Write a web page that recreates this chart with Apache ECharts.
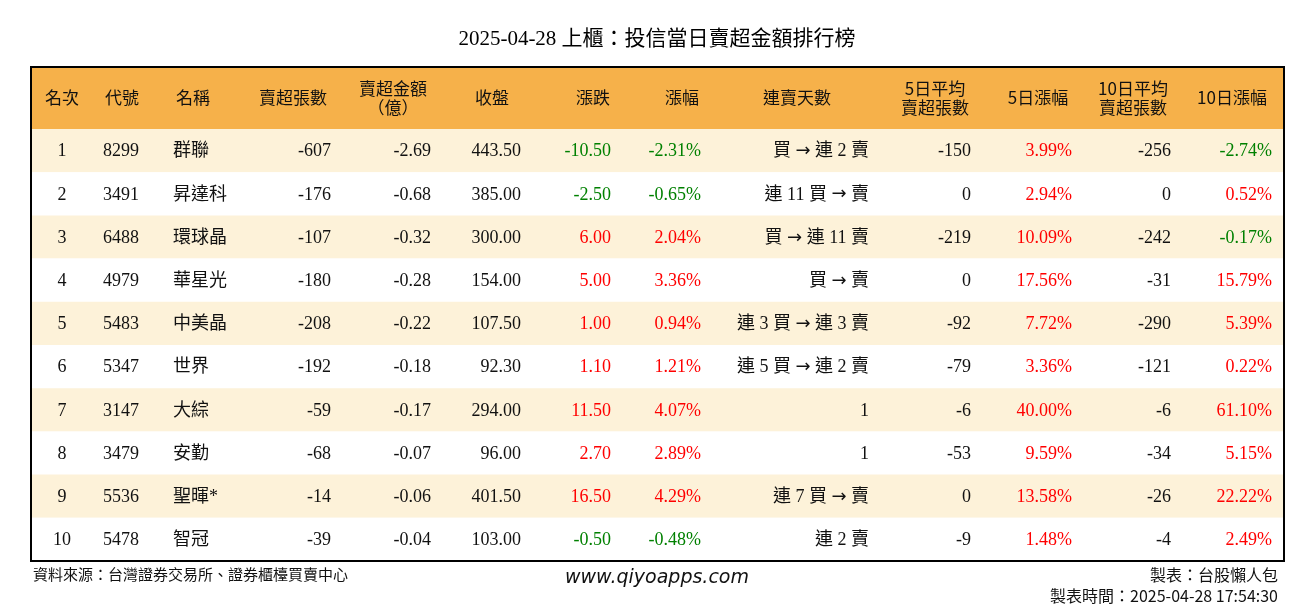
<!DOCTYPE html><html><head><meta charset="utf-8">
<script src="https://cdn.jsdelivr.net/npm/echarts@6/dist/echarts.min.js"></script>
<style>body{margin:0}#c{width:1314px;height:612px}</style></head><body><div id="c"></div>
<script>
const title='2025-04-28 上櫃：投信當日賣超金額排行榜';
const headers=['名次','代號','名稱','賣超張數','賣超金額\n（億）','收盤','漲跌','漲幅','連賣天數','5日平均\n賣超張數','5日漲幅','10日平均\n賣超張數','10日漲幅'];
const ranks=[1,2,3,4,5,6,7,8,9,10];
const codes=['8299','3491','6488','4979','5483','5347','3147','3479','5536','5478'];
const names=['群聯','昇達科','環球晶','華星光','中美晶','世界','大綜','安勤','聖暉*','智冠'];
const netSell=[-607,-176,-107,-180,-208,-192,-59,-68,-14,-39];
const amount=['-2.69','-0.68','-0.32','-0.28','-0.22','-0.18','-0.17','-0.07','-0.06','-0.04'];
const closes=['443.50','385.00','300.00','154.00','107.50','92.30','294.00','96.00','401.50','103.00'];
const changes=['-10.50','-2.50','6.00','5.00','1.00','1.10','11.50','2.70','16.50','-0.50'];
const pct=['-2.31%','-0.65%','2.04%','3.36%','0.94%','1.21%','4.07%','2.89%','4.29%','-0.48%'];
const streak=['買 → 連 2 賣','連 11 買 → 賣','買 → 連 11 賣','買 → 賣','連 3 買 → 連 3 賣','連 5 買 → 連 2 賣','1','1','連 7 買 → 賣','連 2 賣'];
const avg5=[-150,0,-219,0,-92,-79,-6,-53,0,-9];
const pct5=['3.99%','2.94%','10.09%','17.56%','7.72%','3.36%','40.00%','9.59%','13.58%','1.48%'];
const avg10=[-256,0,-242,-31,-290,-121,-6,-34,-26,-4];
const pct10=['-2.74%','0.52%','-0.17%','15.79%','5.39%','0.22%','61.10%','5.15%','22.22%','2.49%'];

const colX=[62,103,173,331,431,521,611,701,869,971,1072,1171,1272];
const colA=['center','left','left','right','right','right','right','right','right','right','right','right','right'];
const hdrX=[62,122,193,293,393,492,593,682,797,935,1038,1133,1232];
const RED='#ff0000',GREEN='#008000',DARK='#111';
const sg=v=>String(v).startsWith('-')?GREEN:RED;
const FONT="'Liberation Serif','Noto Sans CJK TC',serif";

const chart=echarts.init(document.getElementById('c'));
const graphic=[
 {type:'text',left:'center',top:29,style:{text:title,font:"21px 'Liberation Serif','Noto Sans CJK TC',serif",fill:'#000'}},
 {type:'rect',shape:{x:31,y:67,width:1253,height:62},style:{fill:'#f6b14a'}},
 {type:'rect',shape:{x:31,y:67,width:1253,height:494},style:{fill:'none',stroke:'#000',lineWidth:2},z:100},
 {type:'text',left:33,top:567,style:{text:'資料來源：台灣證券交易所、證券櫃檯買賣中心',font:"15px 'Noto Sans CJK TC'",fill:'#111'}},
 {type:'text',left:'center',top:569,style:{text:'www.qiyoapps.com',font:"italic 19px 'DejaVu Sans'",fill:'#111'}},
 {type:'text',right:36,top:567,style:{text:'製表：台股懶人包',font:"16px 'Noto Sans CJK TC'",fill:'#111',align:'right'}},
 {type:'text',right:36,top:588,style:{text:'製表時間：2025-04-28 17:54:30',font:"16px 'Noto Sans CJK TC'",fill:'#111',align:'right'}}
];
headers.forEach((h,i)=>graphic.push({type:'text',x:hdrX[i],y:98,style:{text:h,font:"17px 'Noto Sans CJK TC'",fill:'#111',align:'center',verticalAlign:'middle',lineHeight:19}}));

chart.setOption({
 animation:false,
 grid:{left:31,right:30,top:129,bottom:51},
 xAxis:{type:'value',min:31,max:1284,show:false},
 yAxis:{type:'category',inverse:true,data:ranks.map(String),show:false},
 graphic:graphic,
 series:[{type:'custom',data:ranks.map((r,i)=>[31,i]),encode:{x:0,y:1},
  renderItem:function(params,api){
   const i=api.value(1);
   const p=api.coord([31,i]);const h=api.size([0,1])[1];
   const w=api.coord([1284,i])[0]-p[0];
   const vals=[ranks[i],codes[i],names[i],netSell[i],amount[i],closes[i],changes[i],pct[i],streak[i],avg5[i],pct5[i],avg10[i],pct10[i]];
   const cols=[DARK,DARK,DARK,DARK,DARK,DARK,sg(changes[i]),sg(pct[i]),DARK,DARK,RED,DARK,sg(pct10[i])];
   const ch=[{type:'rect',shape:{x:p[0],y:p[1]-h/2,width:w,height:h},style:{fill:i%2===0?'#fdf2d9':'#ffffff'}}];
   vals.forEach((v,k)=>{
     let t=String(v);
     if(k===8) t=t.split('→').join('{a|→}');
     ch.push({type:'text',x:api.coord([colX[k],i])[0],y:p[1]+1,style:{text:t,font:"18px "+FONT,fill:cols[k],align:colA[k],verticalAlign:'middle',
       rich:{a:{font:"18px 'DejaVu Sans'",fill:DARK}}}});
   });
   return {type:'group',children:ch};
  }}]
});
</script></body></html>
